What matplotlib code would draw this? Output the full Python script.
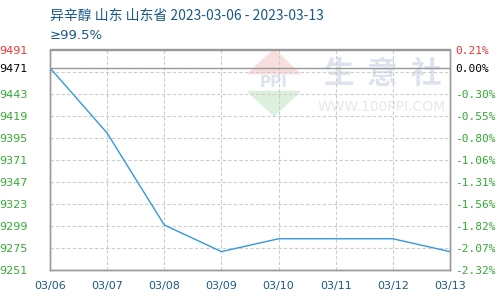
import matplotlib
matplotlib.use("Agg")
import matplotlib.pyplot as plt
from matplotlib.patches import Polygon

plt.rcParams['font.family'] = ['Noto Sans CJK SC', 'DejaVu Sans']

dates = ["03/06", "03/07", "03/08", "03/09", "03/10", "03/11", "03/12", "03/13"]
prices = [9471, 9400, 9300, 9271, 9285, 9285, 9285, 9271]
base = 9471
ymin, ymax, ystep = 9251, 9491, 24
left_labels = ["9491", "9471", "9443", "9419", "9395", "9371", "9347", "9323", "9299", "9275", "9251"]
right_labels = ["0.21%", "0.00%", "-0.30%", "-0.55%", "-0.80%", "-1.06%", "-1.31%", "-1.56%", "-1.82%", "-2.07%", "-2.32%"]
title = "异辛醇 山东 山东省 2023-03-06 - 2023-03-13"
subtitle = "≥99.5%"

fig = plt.figure(figsize=(5, 3), dpi=100)
ax = fig.add_axes([0.1, 0.1, 0.8, 0.735])
x = list(range(len(dates)))

# grid
grid_vals = [ymin + i * ystep for i in range(11)]
for g in grid_vals[1:-1]:
    ax.axhline(g, color="#cccccc", lw=0.8, ls=(0, (3, 2)), zorder=1)
for xi in x[1:-1]:
    ax.axvline(xi, color="#cccccc", lw=0.8, ls=(0, (3, 2)), zorder=1)
ax.axhline(base, color="#999999", lw=1.0, zorder=2)

# watermark
for i, ch in enumerate("生意社"):
    ax.text(0.72 + i * 0.11, 0.89, ch, transform=ax.transAxes, fontsize=22, color="#dde3ee",
            ha="center", va="center", fontweight="bold", zorder=0)
ax.text(0.83, 0.74, "WWW.100PPI.COM", transform=ax.transAxes, fontsize=10, color="#e8e8e8",
        ha="center", va="center", family="DejaVu Sans", zorder=0)
ax.add_patch(Polygon([[0.56, 1.0], [0.495, 0.89], [0.625, 0.89]], closed=True,
                     transform=ax.transAxes, color="#f9dede", zorder=0))
ax.add_patch(Polygon([[0.56, 0.70], [0.495, 0.81], [0.625, 0.81]], closed=True,
                     transform=ax.transAxes, color="#ddf0dd", zorder=0))
ax.text(0.56, 0.85, "PPI", transform=ax.transAxes, fontsize=11, color="#dde3ee",
        ha="center", va="center", fontweight="bold", family="DejaVu Sans", zorder=0)

ax.plot(x, prices, color="#3399dd", lw=1.0, zorder=3)

ax.set_xlim(0, len(dates) - 1)
ax.set_ylim(ymin, ymax)
ax.set_xticks(x)
ax.set_xticklabels(dates, color="#1a5a8a", fontsize=8, family="DejaVu Sans")
left_pos = [ymax, base] + grid_vals[::-1][2:]
ax.set_yticks(left_pos)
ax.set_yticklabels(left_labels, fontsize=8, family="DejaVu Sans")
colors = ["#ee3333", "#000000"] + ["#33aa33"] * 9
for lab, c in zip(ax.get_yticklabels(), colors):
    lab.set_color(c)
ax.tick_params(length=0, pad=8)
ax.tick_params(axis="y", pad=16)

ax2 = ax.twinx()
ax2.set_ylim(ymin, ymax)
ax2.set_yticks(left_pos)
ax2.set_yticklabels(right_labels, fontsize=8, family="DejaVu Sans Mono")
for lab, c in zip(ax2.get_yticklabels(), colors):
    lab.set_color(c)
ax2.tick_params(length=0, pad=4)

for a in (ax, ax2):
    for s in a.spines.values():
        s.set_color("#999999")
        s.set_linewidth(1.0)

fig.text(0.1, 0.948, title, fontsize=10, color="#1a5a8a", va="center", ha="left")
fig.text(0.1, 0.882, subtitle, fontsize=9.5, color="#1a5a8a", va="center", ha="left",
         family="DejaVu Sans")

fig.savefig("out.png", dpi=100)
